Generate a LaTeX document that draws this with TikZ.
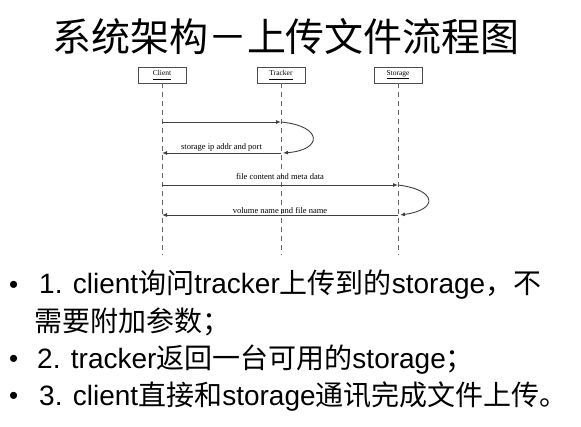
\documentclass[tikz,border=0pt]{standalone}
\usepackage{fontspec}
\setmainfont{Liberation Sans}
\newfontfamily\diagfont{Liberation Serif}
\newfontfamily\cjk{Noto Sans CJK SC}
\newcommand\zh[1]{{\cjk #1}}
\usetikzlibrary{calc,arrows.meta}

\begin{document}
\begin{tikzpicture}[
	x=1pt,y=-1pt,
	auto,
	actor/.style={draw=black!70,line width=0.8pt,minimum width=48pt,minimum height=16pt,inner sep=0pt,font=\diagfont\fontsize{7.5}{9}\selectfont},
	life/.style={draw=black!60,line width=0.9pt,dash pattern=on 5pt off 4pt},
	msg/.style={draw=black!75,line width=0.9pt,-{Latex[length=5pt,width=4pt]}},
	msglabel/.style={font=\diagfont\fontsize{8.5}{10}\selectfont,inner sep=1pt},
	dot/.style={anchor=west,inner sep=0pt,font=\fontsize{26}{30}\selectfont},
	item/.style={anchor=west,inner sep=0pt,font=\fontsize{28}{32}\selectfont}
]
\useasboundingbox (0,0) rectangle (581,427);
%title
\node[font=\cjk\fontsize{39}{43}\selectfont] (title) at (286,37) {系统架构－上传文件流程图};
%sequence diagram
\node[actor] (client) at (162,75) {\underline{Client\vphantom{g}}};
\node[actor] (tracker) at (281,75) {\underline{Tracker\vphantom{g}}};
\node[actor] (storage) at (398,75) {\underline{Storage\vphantom{g}}};
\draw[life] (client.south) -- (client.south |- 0,255) coordinate (c-end);
\draw[life] (tracker.south) -- (tracker.south |- 0,255) coordinate (t-end);
\draw[life] (storage.south) -- (storage.south |- 0,255) coordinate (s-end);
\draw[msg] (client |- 0,122)coordinate(q1) -- (tracker |- 0,122)coordinate(q2);
\draw[msg] (q2) .. controls (323,126) and (323,150) .. ($(tracker |- 0,153)+(2,0)$)coordinate(q3);
\draw[msg] (tracker |- 0,153) -- node[msglabel,above]{storage ip addr and port} (client |- 0,153)coordinate(q4);
\draw[msg] (client |- 0,185)coordinate(u1) -- node[msglabel,above=4pt]{file content and meta data} (storage |- 0,185)coordinate(u2);
\draw[msg] (u2) .. controls (438,190) and (438,210) .. ($(storage |- 0,215)+(2,0)$)coordinate(u3);
\draw[msg] (storage |- 0,215) -- node[msglabel,above]{volume name and file name} (client |- 0,215)coordinate(u4);
%bullets
\node[dot] (d1) at (9,287) {•};
\node[item] (l1) at (39,285) {1. client\zh{询问}tracker\zh{上传到的}storage\zh{，不}};
\node[item] (l2) at (34,322) {\zh{需要附加参数；}};
\node[dot] (d2) at (9,361) {•};
\node[item] (l3) at (37,360) {2. tracker\zh{返回一台可用的}storage\zh{；}};
\node[dot] (d3) at (9,398) {•};
\node[item] (l4) at (39,397) {3. client\zh{直接和}storage\zh{通讯完成文件上传。}};
\end{tikzpicture}
\end{document}
